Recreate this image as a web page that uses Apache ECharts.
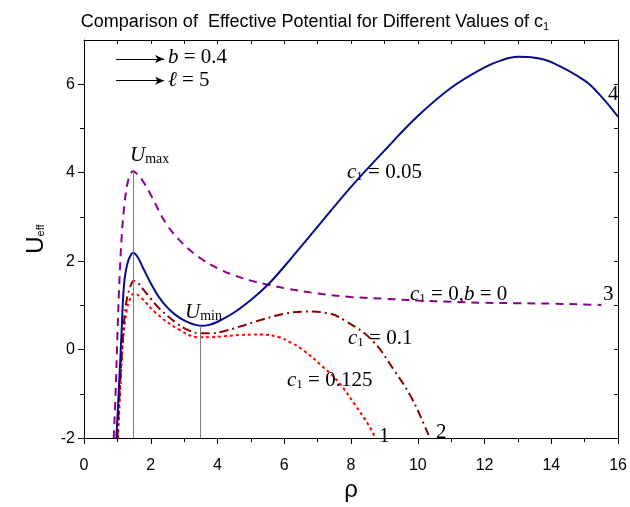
<!DOCTYPE html>
<html>
<head>
    <meta charset="utf-8">
    <title>Effective Potential</title>
    <script src="https://cdn.jsdelivr.net/npm/echarts@6/dist/echarts.min.js"></script>
    <style>
        html, body { margin: 0; padding: 0; background: #fff; }
    </style>
</head>
<body>
    <div id="main" style="width: 630px;height:507px;"></div>
    <script type="text/javascript">
        // values (rho, U_eff)
        // curve 4: c1 = 0.05
        var rho4 = [0.97, 1.05, 1.12, 1.17, 1.22, 1.3, 1.4, 1.47, 1.6, 1.8, 2.0, 2.25, 2.5, 2.75, 3.0, 3.25, 3.5, 3.75, 4.0, 4.5, 5.0, 5.5, 6.0, 6.5, 7.0, 8.0, 9.0, 10.0, 11.0, 12.0, 12.5, 13.0, 13.5, 14.0, 15.0, 15.5, 16.0];
        var u4   = [-2.0, -0.8, 0.3, 1.15, 1.62, 1.95, 2.14, 2.19, 2.1, 1.8, 1.5, 1.18, 0.95, 0.78, 0.66, 0.58, 0.54, 0.56, 0.63, 0.84, 1.12, 1.46, 1.88, 2.33, 2.78, 3.68, 4.5, 5.28, 5.92, 6.38, 6.54, 6.62, 6.6, 6.5, 6.08, 5.72, 5.26];

        // curve 3: c1 = 0, b = 0
        var rho3 = [0.89, 0.95, 1.0, 1.05, 1.12, 1.2, 1.3, 1.4, 1.47, 1.55, 1.72, 2.0, 2.47, 2.97, 3.5, 4.0, 4.5, 5.0, 5.5, 6.0, 7.0, 8.0, 9.0, 10.0, 11.0, 12.0, 13.0, 14.0, 15.0, 15.5];
        var u3   = [-2.0, -0.9, 0.3, 1.35, 2.45, 3.2, 3.75, 3.98, 4.03, 4.0, 3.86, 3.5, 2.84, 2.39, 2.06, 1.84, 1.68, 1.56, 1.47, 1.39, 1.27, 1.19, 1.15, 1.11, 1.08, 1.06, 1.05, 1.04, 1.02, 1.01];

        // curve 2: c1 = 0.1
        var rho2 = [1.0, 1.08, 1.15, 1.22, 1.3, 1.4, 1.49, 1.6, 1.8, 2.0, 2.27, 2.77, 3.1, 3.46, 3.8, 4.16, 4.66, 5.34, 6.0, 6.63, 7.33, 7.83, 8.62, 9.32, 9.82, 10.22, 10.32];
        var u2   = [-2.0, -0.8, 0.1, 0.8, 1.2, 1.45, 1.56, 1.52, 1.34, 1.15, 0.92, 0.6, 0.45, 0.37, 0.37, 0.41, 0.52, 0.68, 0.81, 0.86, 0.82, 0.65, 0.22, -0.5, -1.1, -1.75, -1.93];

        // curve 1: c1 = 0.125
        var rho1 = [1.02, 1.1, 1.18, 1.28, 1.38, 1.5, 1.7, 2.15, 2.85, 3.44, 3.8, 4.16, 4.66, 5.04, 5.34, 5.84, 6.2, 6.53, 7.13, 7.63, 8.13, 8.53, 8.73];
        var u1   = [-2.0, -0.7, 0.3, 0.9, 1.15, 1.27, 1.18, 0.83, 0.45, 0.28, 0.28, 0.3, 0.33, 0.34, 0.34, 0.28, 0.16, 0.01, -0.37, -0.74, -1.26, -1.71, -2.0];

        // U_max / U_min markers and the two arrows
        var uMax = [1.49, 4.07];
        var uMin = [3.48, 0.54];
        var arrowB = [[0.96, 6.57], [2.4, 6.57]];
        var arrowL = [[0.96, 6.08], [2.4, 6.08]];

        var yMajor = [-2, 0, 2, 4, 6];
        var yMinor = [-1, 1, 3, 5];

        function pairs(xs, ys) {
            var out = [];
            for (var i = 0; i < xs.length; i++) out.push([xs[i], ys[i]]);
            return out;
        }

        var serif = 'Liberation Serif';
        var sans = 'Liberation Sans';
        var rich = {
            i: { fontFamily: serif, fontStyle: 'italic', fontSize: 21, color: '#000', lineHeight: 24 },
            r: { fontFamily: serif, fontSize: 21, color: '#000', lineHeight: 24 },
            s: { fontFamily: serif, fontSize: 13, color: '#000', lineHeight: 24, padding: [10, 0, 0, 0] },
            m: { fontFamily: serif, fontSize: 14, color: '#000', lineHeight: 24, padding: [9, 0, 0, 0] }
        };

        function label(x, y, text) {
            return {
                type: 'text', x: x, y: y, silent: true,
                style: { text: text, rich: rich, verticalAlign: 'middle', textVerticalAlign: 'middle' }
            };
        }

        var line = { onZero: false, lineStyle: { color: '#000', width: 1 } };

        var myChart = echarts.init(document.getElementById('main'));

        var option = {
            animation: false,
            backgroundColor: '#fff',
            title: {
                text: '{a|Comparison of  Effective Potential for Different Values of c}{b|1}',
                left: 'center',
                top: 5,
                textStyle: {
                    fontWeight: 'normal',
                    rich: {
                        a: { fontFamily: sans, fontSize: 18, fontWeight: 'normal', color: '#000', lineHeight: 24 },
                        b: { fontFamily: sans, fontSize: 11, fontWeight: 'normal', color: '#000', lineHeight: 24, padding: [10, 0, 0, 0] }
                    }
                }
            },
            grid: { left: 84, right: 10, top: 40, bottom: 64 },
            xAxis: [
                {
                    type: 'value', min: 0, max: 16, interval: 2,
                    name: 'ρ', nameLocation: 'middle', nameGap: 38,
                    nameTextStyle: { fontFamily: sans, fontSize: 24, color: '#000' },
                    axisLine: line,
                    axisTick: { length: 6, lineStyle: { color: '#000' } },
                    minorTick: { show: true, splitNumber: 2, length: 4, lineStyle: { color: '#000' } },
                    axisLabel: { fontFamily: sans, fontSize: 16, color: '#000', margin: 19 },
                    splitLine: { show: false }
                },
                {
                    type: 'value', min: 0, max: 16, interval: 1, position: 'top',
                    axisLine: line,
                    axisTick: { inside: true, length: 4, lineStyle: { color: '#000' } },
                    axisLabel: { show: false },
                    splitLine: { show: false }
                }
            ],
            yAxis: [
                {
                    type: 'value', min: -2, max: 7, interval: 1, position: 'left',
                    name: '{u|U}{e|eff}', nameLocation: 'middle', nameGap: 34, nameRotate: 90,
                    nameTextStyle: {
                        rich: {
                            u: { fontFamily: sans, fontSize: 24, color: '#000', lineHeight: 28 },
                            e: { fontFamily: sans, fontSize: 11, color: '#000', lineHeight: 28, padding: [10, 0, 0, 0] }
                        }
                    },
                    axisLine: line,
                    axisTick: { length: 6, customValues: yMajor, lineStyle: { color: '#000' } },
                    axisLabel: { fontFamily: sans, fontSize: 16, color: '#000', margin: 9, customValues: yMajor },
                    splitLine: { show: false }
                },
                {
                    type: 'value', min: -2, max: 7, interval: 1, position: 'left',
                    axisLine: { show: false, onZero: false },
                    axisTick: { length: 4, customValues: yMinor, lineStyle: { color: '#000' } },
                    axisLabel: { show: false },
                    splitLine: { show: false }
                },
                {
                    type: 'value', min: -2, max: 7, interval: 1, position: 'right',
                    axisLine: line,
                    axisTick: { inside: true, length: 4, lineStyle: { color: '#000' } },
                    axisLabel: { show: false },
                    splitLine: { show: false }
                }
            ],
            series: [
                {
                    name: 'c1 = 0.125', type: 'line', smooth: 0.4, symbol: 'none',
                    data: pairs(rho1, u1),
                    lineStyle: { color: '#ff0000', width: 2, type: [3, 3] }
                },
                {
                    name: 'c1 = 0.1', type: 'line', smooth: 0.4, symbol: 'none',
                    data: pairs(rho2, u2),
                    lineStyle: { color: '#8b0000', width: 2, type: [9, 4, 2, 4] }
                },
                {
                    name: 'c1 = 0, b = 0', type: 'line', smooth: 0.4, symbol: 'none',
                    data: pairs(rho3, u3),
                    lineStyle: { color: '#8b008b', width: 2, type: [8, 6] }
                },
                {
                    name: 'c1 = 0.05', type: 'line', smooth: 0.4, symbol: 'none',
                    data: pairs(rho4, u4),
                    lineStyle: { color: '#0a0a8c', width: 2 },
                    markLine: {
                        silent: true, animation: false,
                        label: { show: false },
                        symbol: 'none',
                        lineStyle: { color: '#7f7f7f', width: 1, type: 'solid' },
                        data: [
                            [{ coord: [uMax[0], -2] }, { coord: [uMax[0], uMax[1]] }],
                            [{ coord: [uMin[0], -2] }, { coord: [uMin[0], uMin[1]] }],
                            [{ coord: arrowB[0], symbol: 'none', lineStyle: { color: '#000' } },
                             { coord: arrowB[1], symbol: 'arrow', symbolSize: [6, 9], lineStyle: { color: '#000' } }],
                            [{ coord: arrowL[0], symbol: 'none', lineStyle: { color: '#000' } },
                             { coord: arrowL[1], symbol: 'arrow', symbolSize: [6, 9], lineStyle: { color: '#000' } }]
                        ]
                    }
                }
            ],
            graphic: [
                label(168, 57, '{i|b}{r| = 0.4}'),
                label(168, 80, '{i|ℓ}{r| = 5}'),
                label(130, 155, '{i|U}{m|max}'),
                label(185, 312, '{i|U}{m|min}'),
                label(347, 172, '{i|c}{s|1}{r| = 0.05}'),
                label(410, 294, '{i|c}{s|1}{r| = 0,}{i|b}{r| = 0}'),
                label(348, 338, '{i|c}{s|1}{r| = 0.1}'),
                label(287, 380, '{i|c}{s|1}{r| = 0.125}'),
                label(379, 436, '{r|1}'),
                label(436, 432, '{r|2}'),
                label(603, 294, '{r|3}'),
                label(608, 94, '{r|4}')
            ]
        };

        myChart.setOption(option);
    </script>
</body>
</html>
